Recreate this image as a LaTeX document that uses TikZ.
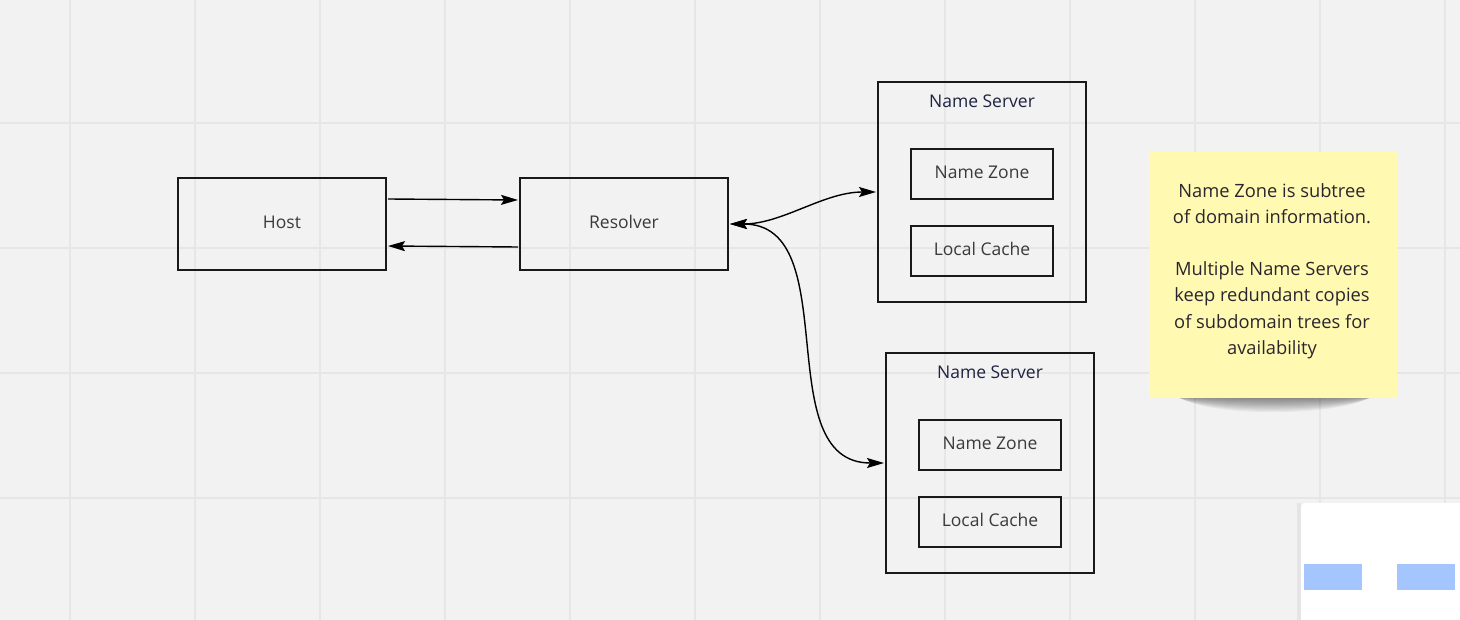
\documentclass[tikz,border=0pt]{standalone}
\usepackage{fontspec}
\setmainfont{Open Sans}
\usetikzlibrary{arrows.meta}
\definecolor{canvas}{HTML}{F2F2F2}
\definecolor{gridline}{HTML}{E6E6E6}
\definecolor{boxtext}{HTML}{3A3A3A}
\definecolor{titletext}{HTML}{1E2340}
\definecolor{sticky}{HTML}{FFF9B1}
\definecolor{stickytext}{HTML}{2A2630}
\definecolor{panelblue}{HTML}{A5C5FF}
\tikzset{
  box/.style={draw=black!90, line width=2.7pt, fill=none, font=\fontsize{17.5}{21}\selectfont,
    text=boxtext, inner sep=0pt, outer sep=0pt, text depth=4pt},
  server/.style={box, minimum width=208pt, minimum height=220pt},
  part/.style={box, minimum width=142pt, minimum height=50pt},
  endpoint/.style={box, minimum width=208pt, minimum height=92pt},
  title/.style={font=\fontsize{17.5}{21}\selectfont, text=titletext, inner sep=0pt},
  tip/.tip={Stealth[length=17pt,width=10pt,inset=3pt]},
  flow/.style={line width=1.4pt, black, -tip},
  twoway/.style={line width=1.4pt, black, tip-tip},
}
\begin{document}
\begin{tikzpicture}[x=1pt, y=-1pt]
  % canvas and board grid
  \fill[canvas] (0,0) rectangle (1460,620);
  \useasboundingbox (0,0) rectangle (1460,620);
  \foreach \gx in {70,195,...,1445} \draw[gridline, line width=1.2pt] (\gx,0) -- (\gx,620);
  \foreach \gy in {123,248,373,498} \draw[gridline, line width=1.2pt] (0,\gy) -- (1460,\gy);

  % client side
  \node[endpoint] (host) at (282,224) {Host};
  \node[endpoint] (res) at (624,224) {Resolver};

  % first name server
  \node[server] (ns1) at (982,192) {};
  \node[title] (ns1t) at (982,101) {Name Server};
  \node[part] (nz1) at (982,174) {Name Zone};
  \node[part] (lc1) at (982,251) {Local Cache};

  % second name server
  \node[server] (ns2) at (990,463) {};
  \node[title] (ns2t) at (990,372) {Name Server};
  \node[part] (nz2) at (990,445) {Name Zone};
  \node[part] (lc2) at (990,522) {Local Cache};

  % queries and answers
  \draw[flow] ([xshift=2pt,yshift=25pt]host.east) -- ([xshift=-2pt,yshift=24pt]res.west);
  \draw[flow] ([xshift=-2pt,yshift=-23pt]res.west) -- ([xshift=2pt,yshift=-22pt]host.east);
  \draw[twoway] ([xshift=2pt]res.east) to[out=0,in=180,looseness=0.9] ([xshift=-2pt]ns1.west);
  \draw[twoway] ([xshift=2pt]res.east) to[out=0,in=180,looseness=1.05] ([xshift=-2pt]ns2.west);

  % sticky note with its soft shadow
  \foreach \k in {0,...,12}
    \fill[black, opacity=0.045] (1158+1.5*\k,394) .. controls (1195,399+1.6*\k) and (1350,399+1.6*\k) .. (1392-1.5*\k,394) -- cycle;
  \fill[sticky] (1149,152) rectangle (1397,398);
  \node[text=stickytext, align=center, inner sep=0pt,
        font=\fontsize{18.3}{26.2}\selectfont] (note) at (1272,271)
    {Name Zone is subtree\\of domain information.\\[26.2pt]Multiple Name Servers\\keep redundant copies\\of subdomain trees for\\availability};

  % corner panel
  \fill[black, opacity=0.05] (1297,503) rectangle (1301,620);
  \fill[white, rounded corners=4pt] (1301,503) rectangle (1470,630);
  \fill[panelblue] (1304,564) rectangle (1362,590);
  \fill[panelblue] (1397,564) rectangle (1455,590);
\end{tikzpicture}
\end{document}
